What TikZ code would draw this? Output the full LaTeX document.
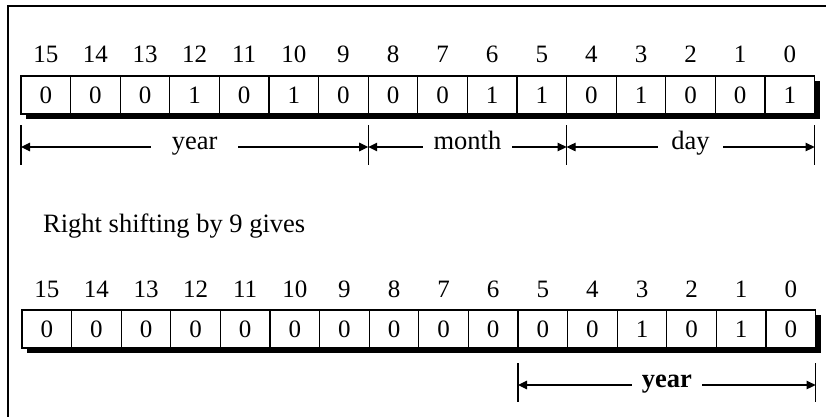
\documentclass[tikz,border=0pt]{standalone}
\usepackage{fontspec}
\setmainfont{Liberation Serif}
\usetikzlibrary{arrows.meta,fit,backgrounds}

\begin{document}
\begin{tikzpicture}[
    x=1pt, y=-1pt,
    cell/.style={draw, fill=white, line width=1.3pt, minimum width=49.6pt, minimum height=38pt, inner sep=0pt, outer sep=0pt, font=\fontsize{25}{28}\selectfont},
    bitnum/.style={anchor=base, inner sep=0pt, font=\fontsize{25}{28}\selectfont},
    lbl/.style={fill=white, inner ysep=1pt, text height=0.7em, text depth=0.24em, font=\fontsize{26.5}{30}\selectfont},
    tick/.style={line width=1.2pt},
    dim/.style={{Triangle[length=9pt,width=8.5pt]}-{Triangle[length=9pt,width=8.5pt]}, line width=1.2pt},
    shade/.style={fill=black},
  ]
  \useasboundingbox (0,0) rectangle (826,416);
  % --- frame ---
  \draw[line width=1.8pt] (8,420) |- (830,6);

  % --- first register: date word ---
  \foreach \v [count=\k from 0] in {0,0,0,1,0,1,0,0,0,1,1,0,1,0,0,1}{
    \pgfmathtruncatemacro\b{15-\k}
    \node[cell] (a\b) at ({21+49.6*(\k+0.5)},95) {\v};
    \node[bitnum] (na\b) at ([yshift=14pt]a\b.north) {\b};
  }
  \begin{scope}[on background layer]
    \node[fit=(a15)(a0), inner sep=0pt] (reg1) {};
    \fill[shade] ([shift={(5pt,-5pt)}]reg1.south west) rectangle ([shift={(5pt,-5pt)}]reg1.north east);
  \end{scope}

  % --- fields of the first register ---
  \foreach \lo/\hi/\txt/\gap in {a15/a9/year/21pt, a8/a5/month/11pt, a4/a0/day/13pt}{
    \coordinate (\lo-t) at ([yshift=-11pt]\lo.south west);
    \coordinate (\lo-b) at ([yshift=-51pt]\lo.south west);
    \coordinate (\hi-t) at ([yshift=-11pt]\hi.south east);
    \coordinate (\hi-b) at ([yshift=-51pt]\hi.south east);
    \coordinate (\lo-L) at ([yshift=-33pt]\lo.south west);
    \coordinate (\hi-R) at ([yshift=-33pt]\hi.south east);
    \draw[tick] (\lo-t) -- (\lo-b);
    \draw[tick] (\hi-t) -- (\hi-b);
    \draw[dim] (\lo-L) -- node[lbl, inner xsep=\gap] (f-\txt) {\txt} (\hi-R);
  }

  \node[anchor=base west, inner sep=0pt, font=\fontsize{26.5}{30}\selectfont] (say) at (43,232) {Right shifting by 9 gives};

  % --- second register: after the shift ---
  \foreach \v [count=\k from 0] in {0,0,0,0,0,0,0,0,0,0,0,0,1,0,1,0}{
    \pgfmathtruncatemacro\b{15-\k}
    \node[cell] (b\b) at ({22+49.6*(\k+0.5)},329) {\v};
    \node[bitnum] (nb\b) at ([yshift=13pt]b\b.north) {\b};
  }
  \begin{scope}[on background layer]
    \node[fit=(b15)(b0), inner sep=0pt] (reg2) {};
    \fill[shade] ([shift={(5pt,-5pt)}]reg2.south west) rectangle ([shift={(5pt,-5pt)}]reg2.north east);
  \end{scope}

  % --- year field after the shift ---
  \coordinate (b5-t) at ([yshift=-15pt]b5.south west);
  \coordinate (b5-b) at ([yshift=-54pt]b5.south west);
  \coordinate (b0-t) at ([yshift=-15pt]b0.south east);
  \coordinate (b0-b) at ([yshift=-54pt]b0.south east);
  \coordinate (b5-L) at ([yshift=-37pt]b5.south west);
  \coordinate (b0-R) at ([yshift=-37pt]b0.south east);
  \draw[tick] (b5-t) -- (b5-b);
  \draw[tick] (b0-t) -- (b0-b);
  \draw[dim] (b5-L) -- node[lbl, inner xsep=10pt, font=\fontsize{26.5}{30}\selectfont\bfseries] (g-year) {year} (b0-R);
\end{tikzpicture}
\end{document}
